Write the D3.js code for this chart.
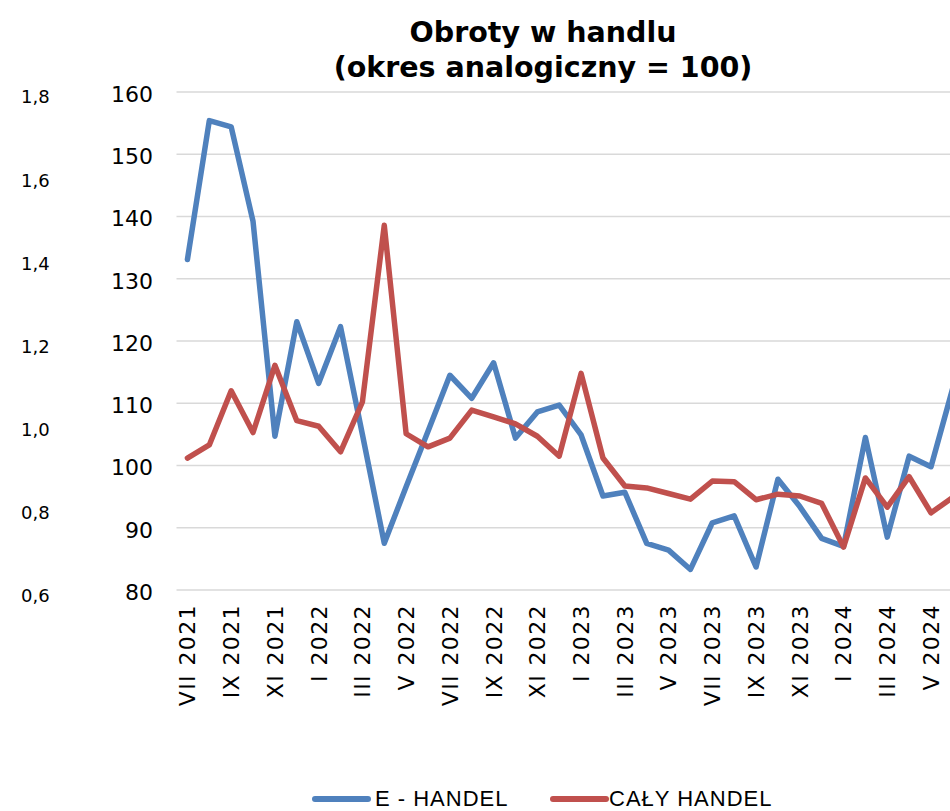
<!DOCTYPE html>
<html>
<head>
<meta charset="utf-8">
<script src="https://cdn.jsdelivr.net/npm/d3@7"></script>
<style>
  html, body { margin: 0; padding: 0; background: #ffffff; }
  svg { display: block; }
</style>
</head>
<body>
<script>
// ---- data ----
const categories = [
  "VII 2021","VIII 2021","IX 2021","X 2021","XI 2021","XII 2021",
  "I 2022","II 2022","III 2022","IV 2022","V 2022","VI 2022",
  "VII 2022","VIII 2022","IX 2022","X 2022","XI 2022","XII 2022",
  "I 2023","II 2023","III 2023","IV 2023","V 2023","VI 2023",
  "VII 2023","VIII 2023","IX 2023","X 2023","XI 2023","XII 2023",
  "I 2024","II 2024","III 2024","IV 2024","V 2024","VI 2024"
];
const eHandel = [
  133.1,155.4,154.4,139.2,104.7,123.1,
  113.2,122.3,105.0,87.5,96.6,105.5,
  114.5,110.8,116.5,104.4,108.6,109.7,
  104.9,95.1,95.7,87.5,86.4,83.3,
  90.8,91.9,83.7,97.8,93.4,88.3,
  87.0,104.5,88.5,101.5,99.8,112.5
];
const calyHandel = [
  101.2,103.3,112.0,105.3,116.1,107.2,
  106.3,102.2,110.2,138.6,105.1,103.0,
  104.4,108.9,107.8,106.7,104.7,101.5,
  114.8,101.2,96.7,96.4,95.5,94.6,
  97.5,97.4,94.5,95.4,95.1,93.9,
  86.9,98.0,93.3,98.2,92.4,94.9
];
const seriesNames = ["E - HANDEL", "CAŁY HANDEL"];
const primaryTicks = [80, 90, 100, 110, 120, 130, 140, 150, 160];
const secondaryTicks = [0.6, 0.8, 1.0, 1.2, 1.4, 1.6, 1.8];
const titleLines = ["Obroty w handlu", "(okres analogiczny = 100)"];

// ---- layout ----
const W = 950, H = 811;
const colors = ["#4F81BD", "#C0504D"];
const svg = d3.select("body").append("svg").attr("width", W).attr("height", H);

const plotLeft = 176.5, step = 21.87;
const x = d3.scaleBand().domain(categories)
  .range([plotLeft, plotLeft + step * categories.length]).padding(0);
const y = d3.scaleLinear().domain([80, 160]).range([590, 92]);
const y2 = d3.scaleLinear().domain([0.6, 1.8]).range([596, 97]);
const cx = c => x(c) + x.bandwidth() / 2;

// gridlines
svg.append("g").selectAll("line").data(primaryTicks).join("line")
  .attr("x1", plotLeft).attr("x2", plotLeft + step * categories.length + 20)
  .attr("y1", d => y(d)).attr("y2", d => y(d))
  .attr("stroke", "#d9d9d9").attr("stroke-width", 1.6);

// primary axis labels
const yAxis = d3.axisLeft(y).tickValues(primaryTicks).tickSize(0).tickPadding(0)
  .tickFormat(d3.format("d"));
const gy = svg.append("g").attr("transform", "translate(153,0)").call(yAxis);
gy.select(".domain").remove();
gy.selectAll("text").attr("font-family", "DejaVu Sans, Verdana, sans-serif")
  .attr("font-size", 22).attr("fill", "#000").attr("dy", "0.42em");

// secondary axis labels (placed at left)
const fmt2 = d => d3.format(".1f")(d).replace(".", ",");
svg.append("g").selectAll("text").data(secondaryTicks).join("text")
  .attr("x", 21).attr("y", d => y2(d)).attr("dy", "0.36em")
  .attr("font-family", "DejaVu Sans, Verdana, sans-serif").attr("font-size", 18)
  .attr("fill", "#000").text(fmt2);

// x axis labels
const xAxis = d3.axisBottom(x)
  .tickValues(categories.filter((c, i) => i % 2 === 0))
  .tickSize(0).tickPadding(0);
const gx = svg.append("g").attr("transform", "translate(0,604)").call(xAxis);
gx.select(".domain").remove();
gx.selectAll("text")
  .attr("font-family", "DejaVu Sans, Verdana, sans-serif").attr("font-size", 22)
  .attr("fill", "#000").attr("letter-spacing", 1.4)
  .attr("transform", "rotate(-90)")
  .attr("text-anchor", "end").attr("x", 0).attr("y", 0).attr("dy", "0.36em");

// lines
const line = d3.line().x((d, i) => cx(categories[i])).y(d => y(d));
[eHandel, calyHandel].forEach((s, k) => {
  svg.append("path").datum(s).attr("d", line)
    .attr("fill", "none").attr("stroke", colors[k]).attr("stroke-width", 5.5)
    .attr("stroke-linejoin", "round").attr("stroke-linecap", "round");
});

// title
const t = svg.append("text").attr("text-anchor", "middle")
  .attr("font-family", "DejaVu Sans, Verdana, sans-serif").attr("font-weight", "bold")
  .attr("font-size", 28.5).attr("fill", "#000");
titleLines.forEach((s, i) => {
  t.append("tspan").attr("x", 543).attr("y", 42 + i * 35).text(s);
});

// legend (kept fully inside the picture)
const legendItems = [{x: 313, tx: 375}, {x: 551, tx: 609}];
seriesNames.forEach((n, k) => {
  svg.append("line").attr("x1", legendItems[k].x + 2).attr("x2", legendItems[k].x + 55)
    .attr("y1", 799).attr("y2", 799)
    .attr("stroke", colors[k]).attr("stroke-width", 6).attr("stroke-linecap", "round");
  svg.append("text").attr("x", legendItems[k].tx).attr("y", 806)
    .attr("font-family", "Liberation Sans, Arial, sans-serif").attr("font-size", 22)
    .attr("letter-spacing", 1).attr("fill", "#000").text(n);
});
</script>
</body>
</html>
